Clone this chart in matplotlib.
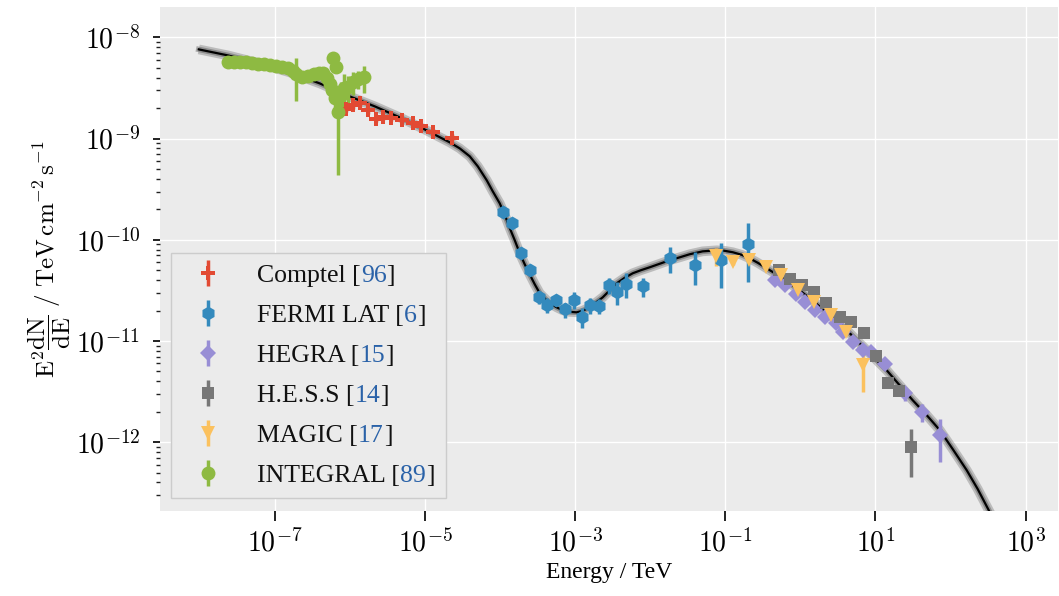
import numpy as np
import matplotlib
matplotlib.use("Agg")
import matplotlib.pyplot as plt
from matplotlib.ticker import LogLocator, NullLocator, NullFormatter, FuncFormatter
from matplotlib.offsetbox import TextArea, HPacker, AnnotationBbox

plt.rcParams['mathtext.fontset'] = 'cm'
plt.rcParams['font.family'] = ['Liberation Serif', 'DejaVu Serif']

# --- data (energy in TeV, E^2 dN/dE in TeV cm^-2 s^-1) ---
comptel_e = [9.0e-7, 1.10e-6, 1.38e-6, 1.75e-6, 2.21e-6, 2.77e-6, 3.48e-6,
             4.87e-6, 6.95e-6, 8.98e-6, 1.26e-5, 2.28e-5]
comptel_f = [1.98e-9, 2.13e-9, 2.24e-9, 1.90e-9, 1.57e-9, 1.63e-9, 1.61e-9,
             1.54e-9, 1.41e-9, 1.32e-9, 1.16e-9, 1.02e-9]
comptel_rel = [0.08, 0.08, 0.08, 0.08, 0.07, 0.07, 0.07, 0.07, 0.06, 0.06, 0.06, 0.08]

fermi_e = [1.10e-4, 1.46e-4, 1.89e-4, 2.48e-4, 3.30e-4, 4.23e-4, 5.52e-4, 7.28e-4,
           9.64e-4, 1.24e-3, 1.60e-3, 2.10e-3, 2.80e-3, 3.61e-3, 4.72e-3, 8.02e-3,
           1.82e-2, 3.97e-2, 8.87e-2, 0.200]
fermi_f = [1.88e-10, 1.48e-10, 7.36e-11, 5.00e-11, 2.72e-11, 2.28e-11, 2.52e-11, 2.05e-11,
           2.54e-11, 1.74e-11, 2.25e-11, 2.24e-11, 3.58e-11, 3.03e-11, 3.66e-11, 3.47e-11,
           6.56e-11, 5.60e-11, 6.32e-11, 9.17e-11]
fermi_rel = [0.05, 0.05, 0.05, 0.07, 0.15, 0.17, 0.12, 0.17, 0.19, 0.22, 0.17, 0.17,
             0.18, 0.25, 0.27, 0.21, 0.28, 0.36, 0.47, 0.58]

hegra_e = [0.455, 0.618, 0.885, 1.14, 1.55, 2.10, 3.01, 3.69, 5.01, 6.82, 8.81,
           13.3, 24.5, 42.2, 73.1]
hegra_f = [4.05e-11, 3.56e-11, 2.94e-11, 2.43e-11, 2.01e-11, 1.73e-11, 1.49e-11,
           1.23e-11, 9.79e-12, 8.11e-12, 7.80e-12, 5.98e-12, 3.03e-12, 1.99e-12, 1.17e-12]
hegra_rel = [0.05, 0.05, 0.05, 0.05, 0.05, 0.05, 0.05, 0.05, 0.06, 0.06, 0.07,
             0.08, 0.15, 0.2, 0.45]

hess_e = [0.519, 0.721, 1.06, 1.52, 2.22, 3.33, 4.78, 7.03, 10.3, 14.7, 20.6, 30.1]
hess_f = [5.00e-11, 4.14e-11, 3.56e-11, 3.05e-11, 2.38e-11, 1.71e-11, 1.54e-11,
          1.19e-11, 7.07e-12, 3.85e-12, 3.21e-12, 9.0e-13]
hess_rel = [0.04, 0.04, 0.04, 0.04, 0.04, 0.05, 0.05, 0.05, 0.06, 0.1, 0.1, 0.5]

magic_e = [0.0762, 0.127, 0.207, 0.345, 0.558, 0.929, 1.52, 2.53, 4.10, 6.82]
magic_f = [6.95e-11, 6.04e-11, 6.37e-11, 5.35e-11, 4.46e-11, 3.17e-11, 2.43e-11,
           1.79e-11, 1.23e-11, 5.75e-12]
magic_rel = [0.2, 0.06, 0.06, 0.05, 0.05, 0.05, 0.05, 0.06, 0.08, 0.45]

integral_e = [2.37e-8, 2.84e-8, 3.42e-8, 4.11e-8, 4.94e-8, 5.94e-8, 7.14e-8, 8.58e-8,
              1.03e-7, 1.24e-7, 1.49e-7, 1.74e-7, 1.90e-7, 2.29e-7, 2.75e-7, 3.31e-7,
              3.85e-7, 4.36e-7, 4.93e-7, 5.40e-7, 5.74e-7, 5.92e-7, 6.49e-7, 6.29e-7,
              6.89e-7, 7.56e-7, 8.29e-7, 9.38e-7, 1.09e-6, 1.27e-6, 1.53e-6]
integral_f = [5.66e-9, 5.66e-9, 5.66e-9, 5.66e-9, 5.53e-9, 5.41e-9, 5.41e-9, 5.29e-9,
              5.17e-9, 5.05e-9, 4.94e-9, 4.61e-9, 4.31e-9, 4.03e-9, 4.12e-9, 4.31e-9,
              4.41e-9, 4.41e-9, 3.94e-9, 3.43e-9, 3.00e-9, 6.21e-9, 5.05e-9, 2.50e-9,
              1.82e-9, 2.68e-9, 3.14e-9, 3.21e-9, 3.60e-9, 3.85e-9, 4.03e-9]
integral_rel = [0.03, 0.03, 0.03, 0.03, 0.03, 0.03, 0.03, 0.03,
                0.04, 0.04, 0.04, 0.06, 0.45, 0.08, 0.08, 0.08,
                0.1, 0.1, 0.12, 0.15, 0.2, 0.1, 0.12, 0.3,
                0.76, 0.35, 0.4, 0.3, 0.25, 0.2, 0.3]

# best-fit model curve
model_e = [9.72e-9, 2.37e-8, 6.31e-8, 1.58e-7, 3.97e-7, 9.97e-7, 2.15e-6, 4.62e-6,
           9.94e-6, 2.14e-5, 2.90e-5, 3.95e-5, 5.05e-5, 6.65e-5, 8.00e-5, 9.91e-5,
           1.16e-4, 1.35e-4, 1.57e-4, 1.83e-4, 2.13e-4, 2.48e-4, 2.90e-4, 3.38e-4,
           3.93e-4, 4.59e-4, 5.69e-4, 6.84e-4, 8.47e-4, 1.05e-3, 1.26e-3, 1.56e-3,
           1.88e-3, 2.33e-3, 2.89e-3, 3.58e-3, 4.57e-3, 5.85e-3, 7.48e-3, 9.84e-3,
           1.34e-2, 1.82e-2, 2.47e-2, 3.36e-2, 5.00e-2, 7.68e-2, 9.82e-2, 0.126,
           0.165, 0.211, 0.270, 0.356, 0.581, 0.979, 1.60, 2.69, 4.01, 6.16, 9.18,
           14.1, 21.0, 31.3, 48.1, 71.6, 107, 164, 230, 332, 451]
model_f = [7.61e-9, 6.64e-9, 5.53e-9, 4.51e-9, 3.51e-9, 2.61e-9, 2.08e-9, 1.62e-9,
           1.23e-9, 9.18e-10, 8.01e-10, 6.68e-10, 5.32e-10, 3.87e-10, 3.01e-10, 2.29e-10,
           1.75e-10, 1.30e-10, 9.89e-11, 7.36e-11, 5.73e-11, 4.56e-11, 3.63e-11, 2.96e-11,
           2.64e-11, 2.36e-11, 2.15e-11, 2.01e-11, 1.94e-11, 1.92e-11, 1.99e-11, 2.15e-11,
           2.39e-11, 2.70e-11, 3.17e-11, 3.72e-11, 4.21e-11, 4.67e-11, 5.00e-11, 5.35e-11,
           5.80e-11, 6.28e-11, 6.71e-11, 7.20e-11, 7.69e-11, 7.87e-11, 7.78e-11, 7.53e-11,
           7.11e-11, 6.56e-11, 5.93e-11, 5.23e-11, 4.17e-11, 3.17e-11, 2.36e-11, 1.72e-11,
           1.31e-11, 9.50e-12, 7.07e-12, 5.14e-12, 3.65e-12, 2.60e-12, 1.85e-12, 1.32e-12,
           8.53e-13, 5.29e-13, 3.44e-13, 2.04e-13, 1.35e-13]

series = [
    ("Comptel", "96", comptel_e, comptel_f, comptel_rel, 'P', '#E24A33', 10),
    ("FERMI LAT", "6", fermi_e, fermi_f, fermi_rel, 'h', '#348ABD', 10),
    ("HEGRA", "15", hegra_e, hegra_f, hegra_rel, 'D', '#988ED5', 8),
    ("H.E.S.S", "14", hess_e, hess_f, hess_rel, 's', '#777777', 9),
    ("MAGIC", "17", magic_e, magic_f, magic_rel, 'v', '#FBC15E', 10),
    ("INTEGRAL", "89", integral_e, integral_f, integral_rel, 'o', '#8EBA42', 10),
]

fig = plt.figure(figsize=(10.59, 5.96), dpi=100)
ax = fig.add_axes([0.151, 0.1426, 0.848, 0.8456])
ax.set_facecolor('#EBEBEB')
for s in ax.spines.values():
    s.set_visible(False)

ax.set_xscale('log')
ax.set_yscale('log')
ax.set_xlim(10**-8.53, 10**3.43)
ax.set_ylim(10**-12.68, 10**-7.70)

ax.plot(model_e, model_f, color='#666666', lw=7, alpha=0.35, zorder=1.5,
        solid_capstyle='butt', solid_joinstyle='round')
ax.plot(model_e, model_f, color='#333333', lw=4, alpha=0.35, zorder=1.55,
        solid_joinstyle='round')
ax.plot(model_e, model_f, color='black', lw=1.6, zorder=1.6, solid_joinstyle='round')

for name, ref, e, f, rel, mk, col, ms in series:
    e = np.array(e)
    f = np.array(f)
    ax.errorbar(e, f, yerr=f * np.array(rel), fmt=mk, color=col, ms=ms,
                elinewidth=2.5, capsize=0, mew=0, label=name + " [" + ref + "]",
                zorder=2)

pow_fmt = FuncFormatter(lambda v, pos: r'$10^{%d}$' % int(round(np.log10(v))))
ax.set_xticks([1e-7, 1e-5, 1e-3, 1e-1, 1e1, 1e3])
ax.xaxis.set_major_formatter(pow_fmt)
ax.xaxis.set_minor_locator(NullLocator())
ax.yaxis.set_major_locator(LogLocator(base=10, numticks=20))
ax.yaxis.set_major_formatter(pow_fmt)
ax.yaxis.set_minor_locator(LogLocator(base=10, subs=np.arange(2, 10), numticks=20))
ax.yaxis.set_minor_formatter(NullFormatter())
ax.tick_params(which='major', direction='out', width=1.4, color='#222222', labelsize=20)
ax.tick_params(axis='x', which='major', length=7, pad=6)
ax.tick_params(axis='y', which='major', length=5, pad=9)
ax.tick_params(which='minor', direction='out', length=3, width=1.0, color='#222222')
ax.grid(True, which='major', color='white', lw=1.0)
ax.set_axisbelow(True)

ax.set_xlabel("Energy / TeV", fontsize=17, labelpad=3)
ax.set_ylabel(r'$\mathrm{E}^2\dfrac{\mathrm{dN}}{\mathrm{dE}}\ /\ \mathrm{TeV\,cm^{-2}\,s^{-1}}$',
              fontsize=18, labelpad=2)

leg = ax.legend(loc='lower left', bbox_to_anchor=(0.0125, 0.025), fontsize=18.5,
                facecolor='#EBEBEB', edgecolor='#CCCCCC', framealpha=1, fancybox=False,
                borderpad=0.45, handletextpad=0.9, labelspacing=0.66, borderaxespad=0)
leg.set_zorder(5)

# coloured citation numbers inside legend labels
for txt, (name, ref, *_rest) in zip(leg.get_texts(), series):
    txt.set_color('none')
    props_k = dict(color='#111111', fontsize=18.5)
    props_b = dict(color='#2A62A8', fontsize=18.5)
    pack = HPacker(children=[TextArea(name + " [", textprops=props_k),
                             TextArea(ref, textprops=props_b),
                             TextArea("]", textprops=props_k)],
                   align='baseline', pad=0, sep=0)
    ab = AnnotationBbox(pack, (0, 0), xycoords=txt, box_alignment=(0, 0),
                        frameon=False, pad=0, zorder=10)
    ax.add_artist(ab)

fig.savefig("out.png", dpi=100)
